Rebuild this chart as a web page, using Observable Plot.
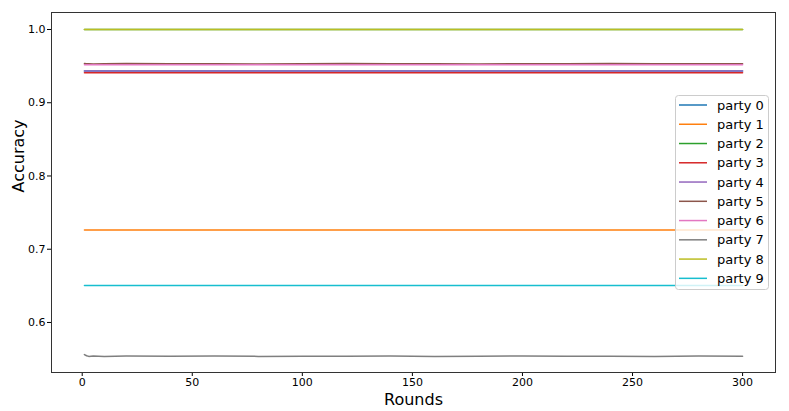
<!DOCTYPE html>
<html><head><meta charset="utf-8">
<script src="https://cdn.jsdelivr.net/npm/d3@7"></script>
<script src="https://cdn.jsdelivr.net/npm/@observablehq/plot@0.6"></script>
<style>body{margin:0;background:#fff}</style>
</head><body><div id="chart"></div>
<script>
const rounds = [1, 2, 3, 5, 10, 20, 40, 60, 80, 100, 120, 140, 160, 180, 200, 220, 240, 260, 280, 300];
const party0 = [0.9432,0.9432,0.9432,0.9432,0.9432,0.9432,0.9432,0.9432,0.9432,0.9432,0.9432,0.9432,0.9432,0.9432,0.9432,0.9432,0.9432,0.9432,0.9432,0.9432];
const party1 = [0.7262,0.7262,0.7262,0.7262,0.7262,0.7262,0.7262,0.7262,0.7262,0.7262,0.7262,0.7262,0.7262,0.7262,0.7262,0.7262,0.7262,0.7262,0.7262,0.7262];
const party2 = [1.0,1.0,1.0,1.0,1.0,1.0,1.0,1.0,1.0,1.0,1.0,1.0,1.0,1.0,1.0,1.0,1.0,1.0,1.0,1.0];
const party3 = [0.9410,0.9410,0.9410,0.9410,0.9410,0.9410,0.9410,0.9410,0.9410,0.9410,0.9410,0.9410,0.9410,0.9410,0.9410,0.9410,0.9410,0.9410,0.9410,0.9410];
const party4 = [0.9432,0.9432,0.9432,0.9432,0.9432,0.9432,0.9432,0.9432,0.9432,0.9432,0.9432,0.9432,0.9432,0.9432,0.9432,0.9432,0.9432,0.9432,0.9432,0.9432];
const party5 = [0.9535,0.9531,0.9534,0.9530,0.9533,0.9535,0.9531,0.9534,0.9530,0.9533,0.9535,0.9531,0.9533,0.9530,0.9534,0.9532,0.9535,0.9531,0.9533,0.9532];
const party6 = [0.9520,0.9520,0.9520,0.9520,0.9520,0.9520,0.9520,0.9520,0.9520,0.9520,0.9520,0.9520,0.9520,0.9520,0.9520,0.9520,0.9520,0.9520,0.9520,0.9520];
const party7 = [0.5562,0.5546,0.5537,0.5541,0.5536,0.5541,0.5538,0.5542,0.5537,0.5540,0.5538,0.5541,0.5537,0.5540,0.5542,0.5538,0.5540,0.5537,0.5541,0.5539];
const party8 = [1.0,1.0,1.0,1.0,1.0,1.0,1.0,1.0,1.0,1.0,1.0,1.0,1.0,1.0,1.0,1.0,1.0,1.0,1.0,1.0];
const party9 = [0.6505,0.6505,0.6505,0.6505,0.6505,0.6505,0.6505,0.6505,0.6505,0.6505,0.6505,0.6505,0.6505,0.6505,0.6505,0.6505,0.6505,0.6505,0.6505,0.6505];
const seriesNames = ["party 0","party 1","party 2","party 3","party 4","party 5","party 6","party 7","party 8","party 9"];
const colors = ["#1f77b4","#ff7f0e","#2ca02c","#d62728","#9467bd","#8c564b","#e377c2","#7f7f7f","#bcbd22","#17becf"];
const xTicks = [0, 50, 100, 150, 200, 250, 300];
const yTicks = [0.6, 0.7, 0.8, 0.9, 1.0];

const allValues = [party0, party1, party2, party3, party4, party5, party6, party7, party8, party9];
const data = [];
allValues.forEach((vals, i) => vals.forEach((v, j) => data.push({round: rounds[j], acc: v, party: seriesNames[i]})));

const chart = Plot.plot({
  width: 789, height: 411,
  marginLeft: 51, marginRight: 14, marginTop: 12, marginBottom: 39,
  style: {fontFamily: "DejaVu Sans", fontSize: "11px", color: "#000", background: "#fff", overflow: "visible"},
  x: {domain: [-13.95, 314.95], ticks: xTicks, tickSize: 4, tickPadding: 2, label: null},
  y: {domain: [0.5317, 1.0232], ticks: yTicks, tickFormat: d3.format(".1f"), tickSize: 4, tickPadding: 2, label: null},
  color: {domain: seriesNames, range: colors},
  marks: [
    Plot.line(data, {x: "round", y: "acc", z: "party", stroke: "party", strokeWidth: 1.5}),
    Plot.frame({stroke: "#333"}),
    Plot.text(["Rounds"], {text: d => d, frameAnchor: "bottom", dy: 32, fontSize: 16}),
    Plot.text(["Accuracy"], {text: d => d, frameAnchor: "left", dx: -33, rotate: -90, fontSize: 16})
  ]
});
document.getElementById("chart").appendChild(chart);

const svg = d3.select(chart);
const lg = svg.append("g").attr("text-anchor", "start");
lg.append("rect").attr("x", 675.5).attr("y", 95.5).attr("width", 93).attr("height", 194).attr("rx", 3)
  .attr("fill", "#fff").attr("fill-opacity", 0.8).attr("stroke", "#ccc");
seriesNames.forEach((n, i) => {
  const y = 105 + i * 19.26;
  lg.append("line").attr("x1", 679).attr("x2", 707).attr("y1", y).attr("y2", y)
    .attr("stroke", colors[i]).attr("stroke-width", 1.5);
  lg.append("text").attr("x", 717).attr("y", y).attr("dy", "0.35em").attr("text-anchor", "start")
    .attr("font-family", "DejaVu Sans").attr("font-size", 13).attr("fill", "#000").text(n);
});
</script>
</body></html>
